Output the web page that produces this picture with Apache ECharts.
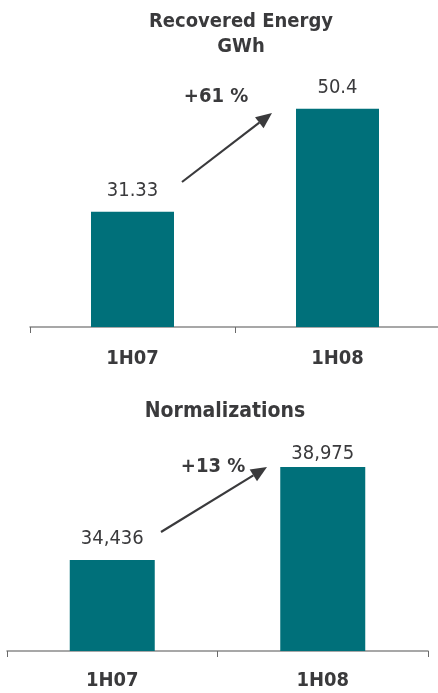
<!DOCTYPE html>
<html>
<head>
<meta charset="utf-8">
<script src="https://cdn.jsdelivr.net/npm/echarts@6/dist/echarts.min.js"></script>
<style>
  html, body { margin: 0; padding: 0; background: #fff; }
  #chart { width: 438px; height: 693px; }
</style>
</head>
<body>
<div id="chart"></div>
<script>
var categories = ['1H07', '1H08']
var energyValues = [31.33, 50.4]
var normValues = [34436, 38975]
var energyGrowth = '+61 %'
var normGrowth = '+13 %'

var FONT = '"DejaVu Sans Condensed", "DejaVu Sans", sans-serif'
var TEXT = '#3a3a3c'
var BAR = '#00707a'

// straight arrow with a filled head, drawn as an annotation
function arrow(x1, y1, x2, y2) {
  var a = Math.atan2(y2 - y1, x2 - x1)
  var len = 16, half = 7
  var bx = x2 - len * Math.cos(a), by = y2 - len * Math.sin(a)
  var px = -Math.sin(a) * half, py = Math.cos(a) * half
  return {
    type: 'group',
    children: [
      { type: 'line', shape: { x1: x1, y1: y1, x2: bx, y2: by }, style: { stroke: TEXT, lineWidth: 2.2 } },
      { type: 'polygon', shape: { points: [[x2, y2], [bx + px, by + py], [bx - px, by - py]] }, style: { fill: TEXT } }
    ]
  }
}

function valueLabel(fmt) {
  return {
    show: true,
    position: 'top',
    distance: 11,
    color: TEXT,
    fontFamily: FONT,
    fontSize: 20,
    formatter: fmt
  }
}

var chart = echarts.init(document.getElementById('chart'))
chart.setOption({
  animation: false,
  textStyle: { fontFamily: FONT },
  title: [
    {
      text: 'Recovered Energy\nGWh',
      left: 236, top: 4, textAlign: 'center',
      textStyle: { color: TEXT, fontFamily: FONT, fontSize: 20, fontWeight: 'bold', lineHeight: 25 }
    },
    {
      text: 'Normalizations',
      left: 220, top: 396, textAlign: 'center',
      textStyle: { color: TEXT, fontFamily: FONT, fontSize: 21, fontWeight: 'bold' }
    }
  ],
  grid: [
    { left: 30, top: 57, width: 410, height: 270, outerBoundsMode: 'none' },
    { left: 7, top: 446, width: 421, height: 205, outerBoundsMode: 'none' }
  ],
  xAxis: [0, 1].map(function(i) {
    return {
      type: 'category',
      gridIndex: i,
      data: categories,
      axisLine: { lineStyle: { color: '#8a8a8a', width: 1.5 } },
      axisTick: { show: true, length: 6, lineStyle: { color: '#6a6a6a' } },
      axisLabel: { color: TEXT, fontFamily: FONT, fontSize: 20, fontWeight: 'bold', margin: i === 0 ? 22 : 20 }
    }
  }),
  yAxis: [
    { type: 'value', gridIndex: 0, min: 10, max: 60, show: false, splitLine: { show: false } },
    { type: 'value', gridIndex: 1, min: 30000, max: 40000, show: false, splitLine: { show: false } }
  ],
  series: [
    {
      type: 'bar',
      xAxisIndex: 0,
      yAxisIndex: 0,
      barWidth: 83,
      itemStyle: { color: BAR },
      label: valueLabel(function(p) { return String(p.value) }),
      data: energyValues
    },
    {
      type: 'bar',
      xAxisIndex: 1,
      yAxisIndex: 1,
      barWidth: 85,
      itemStyle: { color: BAR },
      label: valueLabel(function(p) { return p.value.toLocaleString('en-US') }),
      data: normValues.map(function(v, i) {
        return i === 1 ? { value: v, label: { distance: 3 } } : v
      })
    }
  ],
  graphic: [
    arrow(182, 182, 272, 113),
    { type: 'text', x: 216, y: 97, style: { text: energyGrowth, fill: TEXT, font: 'bold 20px ' + FONT, align: 'center', verticalAlign: 'middle' } },
    arrow(161, 532, 267, 467),
    { type: 'text', x: 213, y: 467, style: { text: normGrowth, fill: TEXT, font: 'bold 20px ' + FONT, align: 'center', verticalAlign: 'middle' } }
  ]
})
</script>
</body>
</html>
